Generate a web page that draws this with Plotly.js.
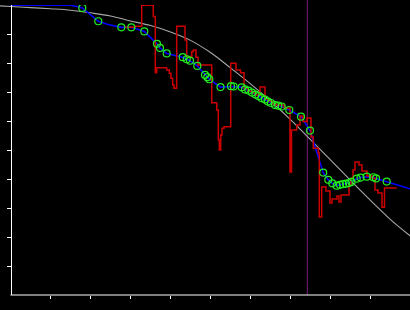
<!DOCTYPE html>
<html>
<head>
<meta charset="utf-8">
<script src="https://cdn.plot.ly/plotly-3.0.1.min.js"></script>
<style>html,body{margin:0;padding:0;background:#000;}#chart{width:410px;height:310px;}</style>
</head>
<body>
<div id="chart"></div>
<script>
// Smooth reference curve (gray)
const grayX = [-0.26, 0, 0.5, 1, 1.5, 2, 2.5, 3, 3.5, 4, 4.5, 5, 5.5, 6, 6.5, 7, 7.5, 8, 8.5, 9, 9.5, 10];
const grayY = [9.97, 9.95, 9.91, 9.87, 9.82, 9.73, 9.62, 9.45, 9.29, 9.07, 8.78, 8.36, 7.83, 7.28, 6.69, 6.05, 5.36, 4.66, 3.95, 3.26, 2.60, 2.03];

// Raw step signal (red)
const redX = [2.8625, 3.1125, 3.28, 3.57, 3.62, 3.655, 3.905, 3.97, 4.0125, 4.055, 4.0875, 4.155, 4.3625, 4.405, 4.53, 4.57, 4.6375, 4.6875,
  5.03, 5.155, 5.195, 5.22, 5.255, 5.2875, 5.3375, 5.505, 5.6375, 5.75, 5.8375, 5.9375, 6.0375, 6.1375, 6.2375, 6.3625, 6.4375, 6.5375, 6.6375,
  6.8375, 6.9875, 7.025, 7.155, 7.2375, 7.3125, 7.4125, 7.5125, 7.57, 7.695, 7.72, 7.78, 7.8875, 7.9875, 8.0375, 8.1625, 8.2125, 8.2625,
  8.4625, 8.5125, 8.5625, 8.6125, 8.7125, 8.7875, 8.9125, 9.0375, 9.1125, 9.1875, 9.2875, 9.35, 9.655];
const redY = [9.23, 9.27, 9.99, 9.60, 7.66, 7.84, 7.76, 7.65, 7.47, 7.24, 7.13, 9.27, 8.79, 8.22, 8.39, 8.45, 8.20, 7.93,
  6.63, 6.38, 5.35, 5.00, 5.52, 5.75, 5.80, 7.99, 7.76, 7.66, 7.14, 7.03, 6.97, 6.90, 7.17, 6.76, 6.69, 6.59, 6.55,
  6.45, 4.24, 5.69, 5.86, 6.17, 5.98, 6.10, 5.45, 5.06, 4.90, 2.69, 3.72, 3.59, 3.17, 3.31, 3.41, 3.21, 3.45,
  3.79, 4.03, 4.31, 4.59, 4.48, 4.28, 4.10, 4.03, 3.62, 3.52, 3.03, 3.69, 3.69];

// Fitted line (blue)
const blueX = [0, 1.4875, 1.6625, 1.795, 2.195, 2.4375, 2.77, 3.02, 3.345, 3.6625, 3.7375, 3.905, 4.305, 4.405, 4.4875, 4.67, 4.8625, 4.92, 4.97,
  5.25, 5.5125, 5.58, 5.78, 5.8625, 5.95, 6.0375, 6.125, 6.2, 6.275, 6.3625, 6.4375, 6.5125, 6.6125, 6.695, 6.78, 6.97, 7.2625, 7.4875,
  7.8175, 7.945, 8.045, 8.155, 8.2375, 8.3125, 8.3875, 8.4625, 8.525, 8.655, 8.75, 8.905, 9.07, 9.1375, 9.405, 9.9875];
const blueY = [9.99, 9.99, 9.95, 9.90, 9.44, 9.33, 9.23, 9.23, 9.09, 8.66, 8.52, 8.33, 8.20, 8.13, 8.08, 7.90, 7.59, 7.51, 7.44,
  7.17, 7.20, 7.19, 7.16, 7.09, 7.05, 6.98, 6.91, 6.86, 6.79, 6.74, 6.67, 6.62, 6.55, 6.53, 6.50, 6.38, 6.15, 5.67,
  4.22, 3.97, 3.85, 3.77, 3.80, 3.82, 3.84, 3.86, 3.90, 4.01, 4.05, 4.08, 4.06, 4.02, 3.91, 3.66];

// Sample points (green circles)
const pointX = [1.795, 2.195, 2.77, 3.02, 3.345, 3.6625, 3.7375, 3.905, 4.305, 4.405, 4.4875, 4.67, 4.8625, 4.92, 4.97,
  5.25, 5.5125, 5.58, 5.78, 5.8625, 5.95, 6.0375, 6.125, 6.2, 6.275, 6.3625, 6.4375, 6.5125, 6.6125, 6.695, 6.78, 6.97, 7.2625, 7.4875,
  7.8175, 7.945, 8.045, 8.155, 8.2375, 8.3125, 8.3875, 8.4625, 8.525, 8.655, 8.75, 8.905, 9.07, 9.1375, 9.405];
const pointY = [9.90, 9.44, 9.23, 9.23, 9.09, 8.66, 8.52, 8.33, 8.20, 8.13, 8.08, 7.90, 7.59, 7.51, 7.44,
  7.17, 7.20, 7.19, 7.16, 7.09, 7.05, 6.98, 6.91, 6.86, 6.79, 6.74, 6.67, 6.62, 6.55, 6.53, 6.50, 6.38, 6.15, 5.67,
  4.22, 3.97, 3.85, 3.77, 3.80, 3.82, 3.84, 3.86, 3.90, 4.01, 4.05, 4.08, 4.06, 4.02, 3.91];

const cutoffX = 7.42;
const tickValsX = [1, 2, 3, 4, 5, 6, 7, 8, 9];
const tickValsY = [1, 2, 3, 4, 5, 6, 7, 8, 9];

const traces = [
  {x: grayX, y: grayY, type: 'scatter', mode: 'lines', line: {color: '#a8a8a8', width: 1.1, shape: 'spline'}, hoverinfo: 'skip'},
  {x: blueX, y: blueY, type: 'scatter', mode: 'lines', line: {color: '#0000ff', width: 1.6}, hoverinfo: 'skip'},
  {x: redX, y: redY, type: 'scatter', mode: 'lines', line: {color: '#cc0000', width: 1.5, shape: 'hv'}, hoverinfo: 'skip'},
  {x: pointX, y: pointY, type: 'scatter', mode: 'markers', marker: {symbol: 'circle-open', size: 7, color: '#22ee22', line: {width: 1.2, color: '#22ee22'}}, hoverinfo: 'skip'}
];

const layout = {
  width: 410, height: 310,
  margin: {l: 0, r: 0, t: 5, b: 15, pad: 0},
  paper_bgcolor: '#000000', plot_bgcolor: '#000000',
  showlegend: false,
  xaxis: {range: [-0.2625, 9.9875], showgrid: false, zeroline: false, showline: false,
          tickmode: 'array', tickvals: tickValsX, ticks: 'outside', ticklen: 3, tickwidth: 1, tickcolor: '#ffffff',
          showticklabels: false, fixedrange: true},
  yaxis: {range: [0, 10], showgrid: false, zeroline: false, showline: true, linecolor: '#ffffff', linewidth: 1,
          anchor: 'free', position: 10.5 / 410,
          tickmode: 'array', tickvals: tickValsY, ticks: 'outside', ticklen: 4, tickwidth: 1, tickcolor: '#ffffff',
          showticklabels: false, fixedrange: true},
  shapes: [
    {type: 'line', xref: 'x', yref: 'paper', x0: cutoffX, x1: cutoffX, y0: 0, y1: 1.02, layer: 'below',
     line: {color: '#7a1a7a', width: 1}},
    {type: 'line', xref: 'x', yref: 'paper', x0: 0, x1: 10, y0: 0, y1: 0,
     line: {color: '#ffffff', width: 1}}
  ]
};

Plotly.newPlot('chart', traces, layout, {staticPlot: true, displayModeBar: false});
</script>
</body>
</html>
